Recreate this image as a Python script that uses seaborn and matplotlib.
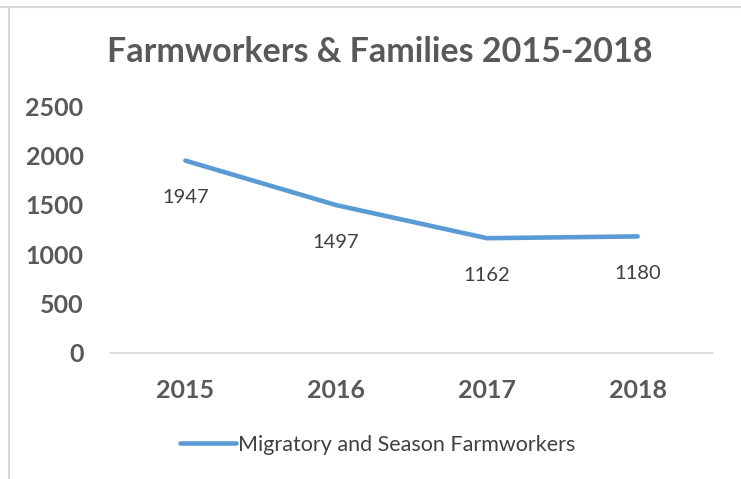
import matplotlib
matplotlib.use("Agg")
import matplotlib.pyplot as plt
from matplotlib.lines import Line2D
import seaborn as sns
import pandas as pd

years = ["2015", "2016", "2017", "2018"]
workers = [1947, 1497, 1162, 1180]
series_name = "Migratory and Season Farmworkers"
title = "Farmworkers & Families 2015-2018"
yticks = [0, 500, 1000, 1500, 2000, 2500]

df = pd.DataFrame({"Year": years, "Count": workers})

sns.set_theme(style="white")
plt.rcParams["font.family"] = ["Lato", "DejaVu Sans"]

fig = plt.figure(figsize=(7.41, 4.79), dpi=100)
ax = fig.add_axes([110/741, 1-353/479, (713-110)/741, (353-106)/479])

blue = "#5B9BD5"
sns.lineplot(data=df, x="Year", y="Count", ax=ax, color=blue, linewidth=3.3,
             solid_capstyle="round", sort=False, label=series_name)

for i, v in enumerate(workers):
    ax.annotate(str(v), (i, v), xytext=(0, -37), textcoords="offset pixels",
                ha="center", va="center", fontsize=14.5, color="#404040")

ax.set_xlim(-0.5, 3.5)
ax.set_ylim(0, 2500)
ax.set_yticks(yticks)
ax.set_yticklabels([str(t) for t in yticks], fontsize=18, fontweight="bold", color="#595959")
ax.set_xticks(range(len(years)))
ax.set_xticklabels(years, fontsize=18, fontweight="bold", color="#595959")
ax.tick_params(axis="y", length=0, pad=19)
ax.tick_params(axis="x", length=0, pad=19)
ax.set_xlabel("")
ax.set_ylabel("")
for s in ["top", "right", "left"]:
    ax.spines[s].set_visible(False)
ax.spines["bottom"].set_color("#d9d9d9")
ax.spines["bottom"].set_linewidth(1.2)

leg = ax.legend(loc="center", bbox_to_anchor=(378/741, 1-445/479),
                bbox_transform=fig.transFigure, frameon=False, fontsize=15.5,
                handlelength=2.6, handletextpad=0.1)
for t in leg.get_texts():
    t.set_color("#404040")

fig.text(380/741, 1-52/479, title, ha="center", va="center", fontsize=24.5,
         fontweight="bold", color="#595959")

fig.add_artist(Line2D([0, 1], [1-7/479, 1-7/479], transform=fig.transFigure,
                      color="#d9d9d9", linewidth=1.5))
fig.add_artist(Line2D([9/741, 9/741], [0, 1-7/479], transform=fig.transFigure,
                      color="#d9d9d9", linewidth=1.5))

fig.savefig("out.png", dpi=100, facecolor="white")
